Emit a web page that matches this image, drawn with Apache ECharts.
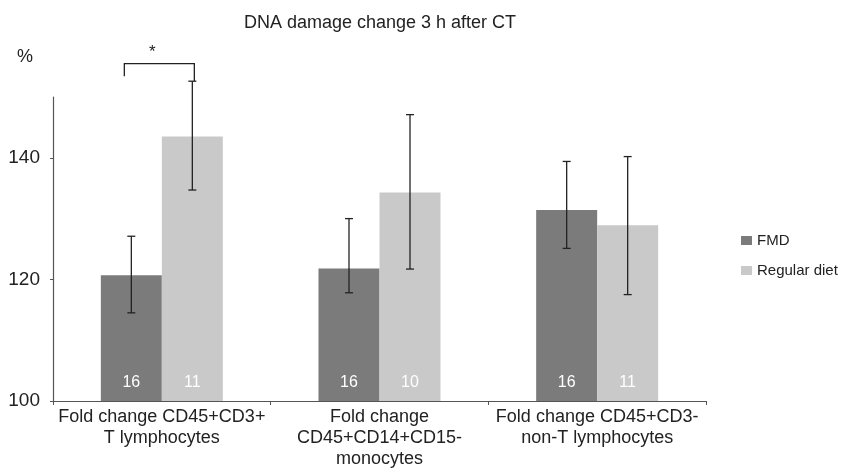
<!DOCTYPE html>
<html>
<head>
<meta charset="utf-8">
<script src="https://cdn.jsdelivr.net/npm/echarts@6/dist/echarts.min.js"></script>
<style>
  html, body { margin: 0; padding: 0; background: #fff; }
  #chart { width: 843px; height: 475px; }
</style>
</head>
<body>
<div id="chart"></div>
<script>
// data
var categories = ['Fold change CD45+CD3+\nT lymphocytes', 'Fold change\nCD45+CD14+CD15-\nmonocytes', 'Fold change CD45+CD3-\nnon-T lymphocytes'];
var fmdMean = [120.7, 121.8, 131.4];
var fmdLow = [114.5, 117.8, 125.1];
var fmdHigh = [127.1, 130.0, 139.4];
var regMean = [143.5, 134.3, 128.9];
var regLow = [134.7, 121.7, 117.5];
var regHigh = [152.6, 147.1, 140.2];
var fmdN = [16, 16, 16];
var regN = [11, 10, 11];
var yTicks = [100, 120, 140];
var bracket = [0, 155.5, 153.4]; // significance bracket over group 1: category, top, left leg end

var BAR_W = 61;
var font = 'Liberation Sans, Arial, sans-serif';

function errBar(offset) {
  return function (params, api) {
    var x = api.value(0);
    var lo = api.coord([x, api.value(1)]);
    var hi = api.coord([x, api.value(2)]);
    var cx = lo[0] + offset;
    var st = { stroke: '#222', lineWidth: 1.3 };
    return {
      type: 'group',
      children: [
        { type: 'line', shape: { x1: cx, y1: lo[1], x2: cx, y2: hi[1] }, style: st },
        { type: 'line', shape: { x1: cx - 4, y1: lo[1], x2: cx + 4, y2: lo[1] }, style: st },
        { type: 'line', shape: { x1: cx - 4, y1: hi[1], x2: cx + 4, y2: hi[1] }, style: st }
      ]
    };
  };
}

var chart = echarts.init(document.getElementById('chart'));
chart.setOption({
  animation: false,
  title: {
    text: 'DNA damage change 3 h after CT',
    left: 375, top: 9, textAlign: 'center',
    textStyle: { fontFamily: font, fontSize: 18, fontWeight: 'normal', color: '#222' }
  },
  legend: {
    orient: 'vertical', left: 736, top: 228,
    itemWidth: 11, itemHeight: 9, itemGap: 15, itemStyle: { borderWidth: 0 },
    icon: 'rect',
    textStyle: { fontFamily: font, fontSize: 15, color: '#222' },
    data: ['FMD', 'Regular diet']
  },
  grid: { left: 53, right: 137, top: 97, bottom: 74 },
  xAxis: {
    type: 'category',
    data: categories,
    axisLine: { lineStyle: { color: '#555', width: 1.2 } },
    axisTick: { show: true, length: 4, lineStyle: { color: '#555' } },
    axisLabel: { interval: 0, fontFamily: font, fontSize: 18, color: '#222', lineHeight: 21, margin: 6 }
  },
  yAxis: {
    type: 'value',
    min: 100, max: 150, interval: 20,
    name: '%', nameLocation: 'end', nameGap: 31,
    nameTextStyle: { fontFamily: font, fontSize: 18, color: '#222', align: 'right', padding: [0, 20, 0, 0] },
    axisLine: { show: true, lineStyle: { color: '#555', width: 1.2 } },
    axisTick: { show: true, length: 3, lineStyle: { color: '#555' } },
    splitLine: { show: false },
    axisLabel: {
      fontFamily: font, fontSize: 19, color: '#222', margin: 13, showMaxLabel: false,
      formatter: function (v) { return yTicks.indexOf(v) >= 0 ? v : ''; }
    }
  },
  series: [
    {
      name: 'FMD', type: 'bar', data: fmdMean, barWidth: BAR_W, barGap: '0%',
      itemStyle: { color: '#7b7b7b' },
      label: {
        show: true, position: 'insideBottom', distance: 10,
        formatter: function (p) { return fmdN[p.dataIndex]; },
        fontFamily: font, fontSize: 16, color: '#fff'
      }
    },
    {
      name: 'Regular diet', type: 'bar', data: regMean, barWidth: BAR_W,
      itemStyle: { color: '#c9c9c9' },
      label: {
        show: true, position: 'insideBottom', distance: 10,
        formatter: function (p) { return regN[p.dataIndex]; },
        fontFamily: font, fontSize: 16, color: '#fff'
      }
    },
    {
      type: 'custom', clip: false, z: 5,
      data: fmdMean.map(function (v, i) { return [i, fmdLow[i], fmdHigh[i]]; }),
      renderItem: errBar(-BAR_W / 2)
    },
    {
      type: 'custom', clip: false, z: 5,
      data: regMean.map(function (v, i) { return [i, regLow[i], regHigh[i]]; }),
      renderItem: errBar(BAR_W / 2)
    },
    {
      type: 'custom', clip: false, z: 5,
      data: [[bracket[0], bracket[1], bracket[2], regHigh[0]]],
      renderItem: function (params, api) {
        var x = api.value(0);
        var top = api.coord([x, api.value(1)]);
        var lLeg = api.coord([x, api.value(2)]);
        var rLeg = api.coord([x, api.value(3)]);
        var x1 = top[0] - BAR_W / 2 - 7, x2 = top[0] + BAR_W / 2 + 2;
        return {
          type: 'group',
          children: [
            { type: 'polyline', shape: { points: [[x1, lLeg[1]], [x1, top[1]], [x2, top[1]], [x2, rLeg[1]]] }, style: { stroke: '#222', lineWidth: 1.3, fill: null } },
            { type: 'text', style: { x: (x1 + x2) / 2 - 7, y: top[1] - 3, text: '*', textAlign: 'center', textVerticalAlign: 'bottom', fontSize: 17, fontFamily: font, fill: '#222' } }
          ]
        };
      }
    }
  ]
});
</script>
</body>
</html>
